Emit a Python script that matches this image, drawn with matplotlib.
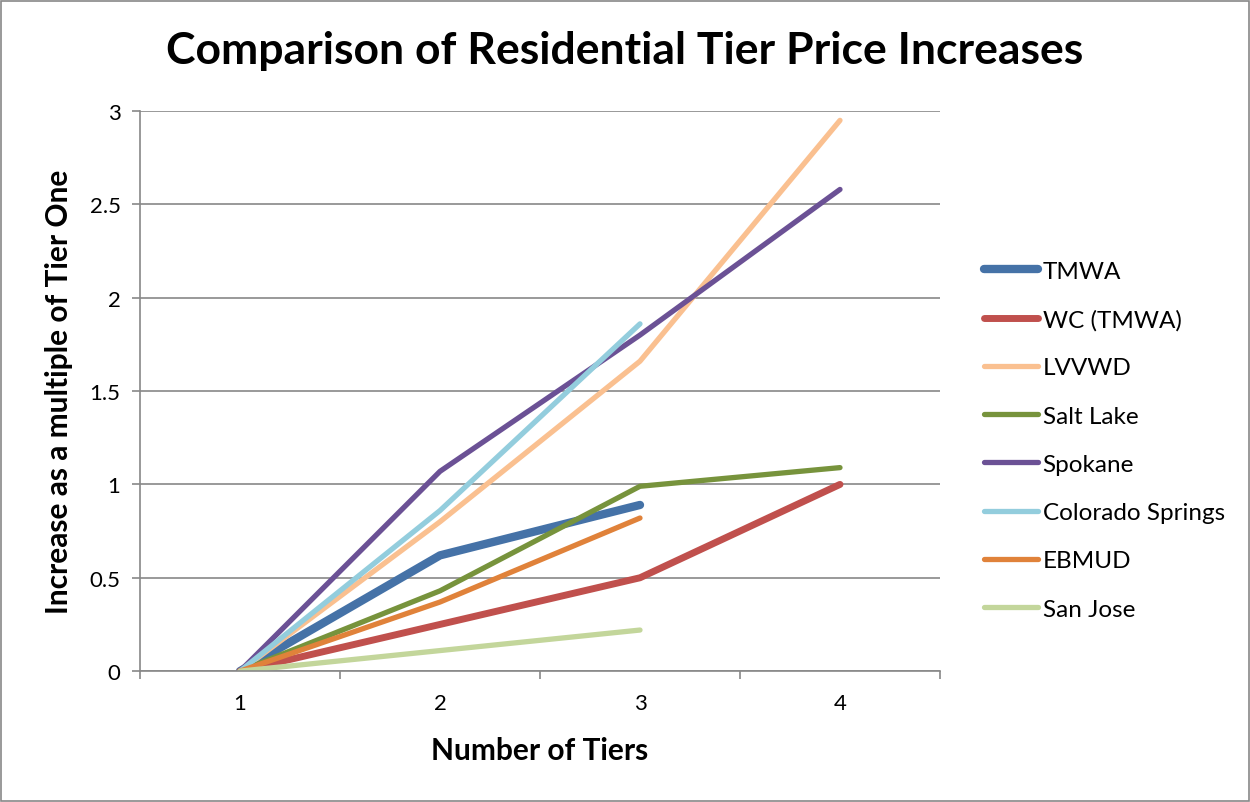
import matplotlib
matplotlib.use("Agg")
import matplotlib.pyplot as plt
from matplotlib.patches import Rectangle

plt.rcParams['font.family'] = ['Lato', 'DejaVu Sans']

tiers = ["1", "2", "3", "4"]
series_names = ["TMWA", "WC (TMWA)", "LVVWD", "Salt Lake", "Spokane",
                "Colorado Springs", "EBMUD", "San Jose"]
tmwa = [0, 0.62, 0.89]
wc_tmwa = [0, 0.25, 0.50, 1.00]
lvvwd = [0, 0.80, 1.66, 2.95]
salt_lake = [0, 0.43, 0.99, 1.09]
spokane = [0, 1.07, 1.80, 2.58]
colorado_springs = [0, 0.86, 1.86]
ebmud = [0, 0.37, 0.82]
san_jose = [0, 0.11, 0.22]

series_values = [tmwa, wc_tmwa, lvvwd, salt_lake, spokane,
                 colorado_springs, ebmud, san_jose]
colors = ["#4572A7", "#C0504D", "#FAC090", "#77933C", "#6B5195",
          "#93CDDD", "#E0823A", "#C3D69B"]
widths = [6.0, 5.0, 3.8, 3.8, 3.8, 3.8, 3.8, 3.8]

fig = plt.figure(figsize=(12.5, 8.03), dpi=100)
fig.patches.append(Rectangle((0.001, 0.001), 0.998, 0.997, transform=fig.transFigure,
                             fill=False, edgecolor="#888888", linewidth=1.2))

ax = fig.add_axes([0.112, 0.163, 0.640, 0.6975])
for name, vals, c, w in zip(series_names, series_values, colors, widths):
    xs = list(range(len(vals)))
    ax.plot(xs, vals, color=c, linewidth=w, solid_capstyle="round",
            solid_joinstyle="round", label=name)

ax.set_xlim(-0.5, 3.5)
ax.set_ylim(0, 3)
ax.set_yticks([0, 0.5, 1, 1.5, 2, 2.5, 3])
ax.set_yticklabels(["0", "0.5", "1", "1.5", "2", "2.5", "3"])
ax.set_xticks(range(len(tiers)))
ax.set_xticklabels(tiers)
ax.set_xticks([-0.5, 0.5, 1.5, 2.5, 3.5], minor=True)
ax.tick_params(axis="x", which="major", length=0, pad=16, labelsize=16)
ax.tick_params(axis="x", which="minor", length=6, color="#888888", width=1.2)
ax.tick_params(axis="y", length=6, color="#888888", width=1.2, pad=8, labelsize=16)
ax.grid(axis="y", color="#888888", linewidth=1.2)
ax.set_axisbelow(True)
for s in ["top", "right"]:
    ax.spines[s].set_visible(False)
for s in ["left", "bottom"]:
    ax.spines[s].set_color("#888888")
    ax.spines[s].set_linewidth(1.2)

ax.set_xlabel("Number of Tiers", fontsize=21.5, fontweight="bold", labelpad=16)
ax.set_ylabel("Increase as a multiple of Tier One", fontsize=21.5, fontweight="bold", labelpad=12)
fig.text(0.5, 0.937, "Comparison of Residential Tier Price Increases",
         ha="center", va="center", fontsize=32, fontweight="bold")

leg = ax.legend(loc="center left", bbox_to_anchor=(1.028, 0.4125), frameon=False,
                fontsize=17.5, handlelength=2.2, handletextpad=0.2,
                labelspacing=1.12)

fig.savefig("out.png", dpi=100)
